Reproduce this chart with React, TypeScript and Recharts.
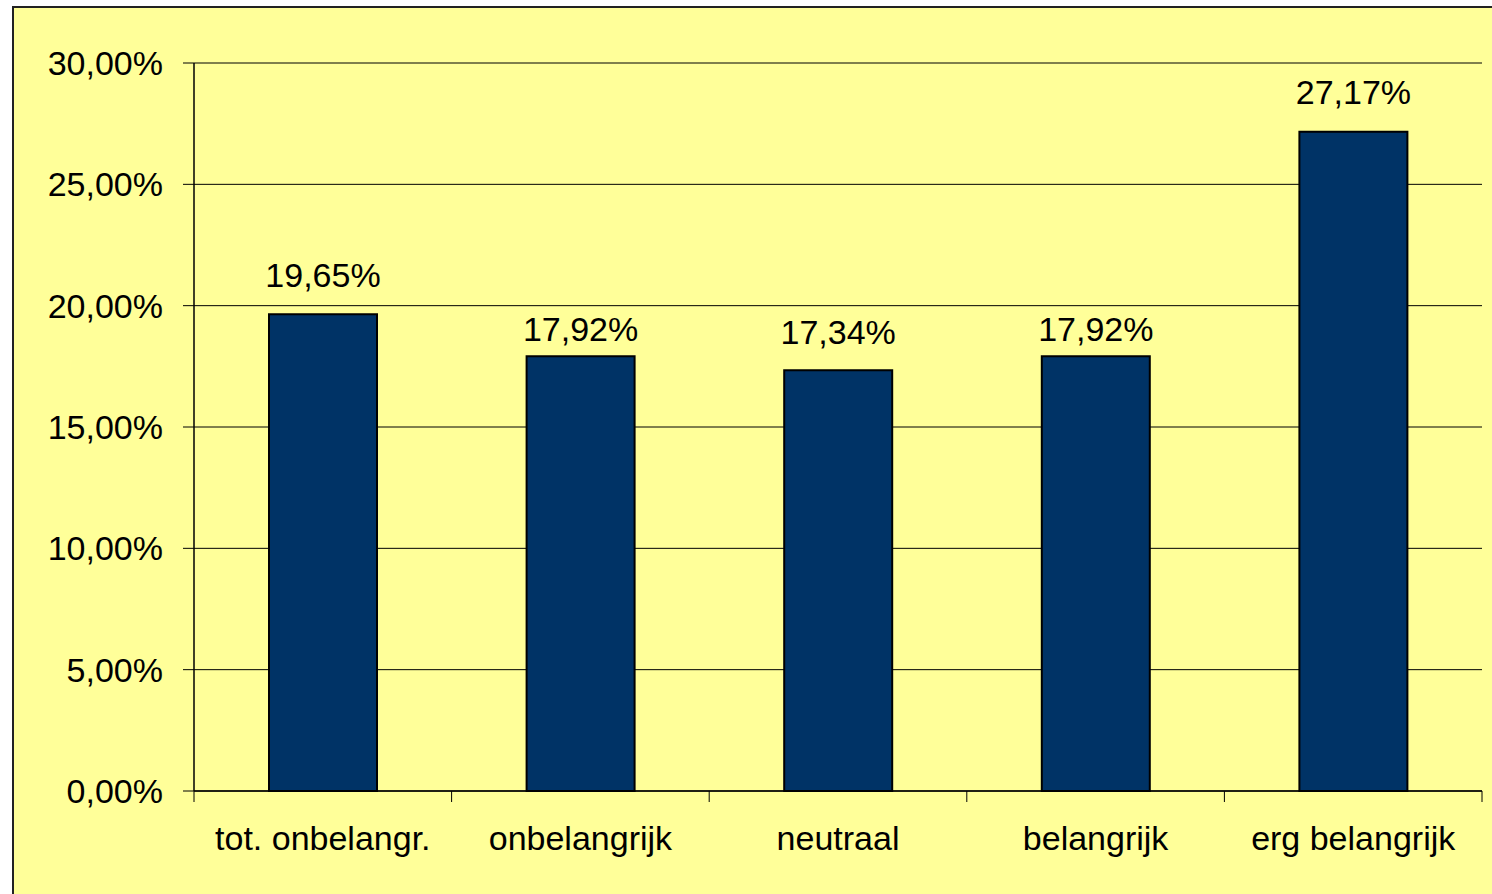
import React from "react";
import {
  BarChart,
  Bar,
  XAxis,
  YAxis,
  CartesianGrid,
  LabelList,
} from "recharts";

// Staafdiagram: belang (percentages), Excel-stijl

const categories = [
  "tot. onbelangr.",
  "onbelangrijk",
  "neutraal",
  "belangrijk",
  "erg belangrijk",
];
const values = [19.65, 17.92, 17.34, 17.92, 27.17];
const yTicks = [0, 5, 10, 15, 20, 25, 30];

const data = categories.map((name, i) => ({ name, value: values[i] }));

const CHART_W = 1480;
const CHART_H = 886;
const MARGIN = { top: 55, right: 12, left: 0, bottom: 0 };
const Y_AXIS_W = 180;
const PLOT_W = CHART_W - MARGIN.left - MARGIN.right - Y_AXIS_W;
const BAND = PLOT_W / categories.length;
const FONT = "'Liberation Sans', Arial, sans-serif";
const FS = 34;
// afstand label-basislijn tot bovenkant staaf (Excel schuift sommige labels omlaag)
const LABEL_GAP = [27, 15, 26, 15, 28];

const fmt = (v: number) => v.toFixed(2).replace(".", ",") + "%";

// X-as label + tick-streepjes op de categoriegrenzen
function XTick(props: any) {
  const { x, y, payload, index } = props;
  const left = x - BAND / 2;
  const isLast = index === categories.length - 1;
  return (
    <g>
      <line x1={left} x2={left} y1={y} y2={y + 11} stroke="#000" strokeWidth={1} />
      {isLast && (
        <line
          x1={x + BAND / 2}
          x2={x + BAND / 2}
          y1={y}
          y2={y + 11}
          stroke="#000"
          strokeWidth={1}
        />
      )}
      <text
        x={x}
        y={y + 59}
        textAnchor="middle"
        fill="#000"
        fontSize={FS}
        fontFamily={FONT}
      >
        {payload.value}
      </text>
    </g>
  );
}

function ValueLabel(props: any) {
  const { x, y, width, value, index } = props;
  return (
    <text
      x={Number(x) + Number(width) / 2}
      y={Number(y) - LABEL_GAP[index]}
      textAnchor="middle"
      fill="#000"
      fontSize={FS}
      fontFamily={FONT}
    >
      {fmt(Number(value))}
    </text>
  );
}

export default function App() {
  return (
    <div
      style={{
        position: "fixed",
        inset: 0,
        overflow: "hidden",
        background: "#fff",
      }}
    >
      <div
        style={{
          position: "absolute",
          left: 12,
          top: 6,
          width: CHART_W,
          height: CHART_H,
          background: "#FFFF99",
          border: "2px solid #222",
        }}
      >
        <BarChart
          width={CHART_W}
          height={CHART_H}
          data={data}
          margin={MARGIN}
          barCategoryGap={75}
        >
          <CartesianGrid vertical={false} stroke="#000" strokeWidth={1} />
          <XAxis
            dataKey="name"
            axisLine={{ stroke: "#000", strokeWidth: 1.5 }}
            tickLine={false}
            tickSize={0}
            tickMargin={0}
            height={CHART_H - 783 - MARGIN.bottom}
            tick={<XTick />}
            interval={0}
          />
          <XAxis
            xAxisId="top"
            dataKey="name"
            orientation="top"
            height={0}
            tick={false}
            tickLine={false}
            axisLine={{ stroke: "#808080", strokeWidth: 2 }}
          />
          <YAxis
            domain={[0, 30]}
            ticks={yTicks}
            width={Y_AXIS_W}
            tickSize={11}
            tickMargin={20}
            axisLine={{ stroke: "#000", strokeWidth: 1.5 }}
            tickLine={{ stroke: "#000" }}
            tickFormatter={fmt}
            tick={{ fill: "#000", fontSize: FS, fontFamily: FONT }}
          />
          <YAxis
            yAxisId="right"
            orientation="right"
            domain={[0, 30]}
            width={0}
            tick={false}
            tickLine={false}
            axisLine={{ stroke: "#808080", strokeWidth: 2 }}
          />
          <Bar
            dataKey="value"
            fill="#003366"
            stroke="#000"
            strokeWidth={2}
            isAnimationActive={false}
          >
            <LabelList dataKey="value" content={<ValueLabel />} />
          </Bar>
        </BarChart>
      </div>
    </div>
  );
}
